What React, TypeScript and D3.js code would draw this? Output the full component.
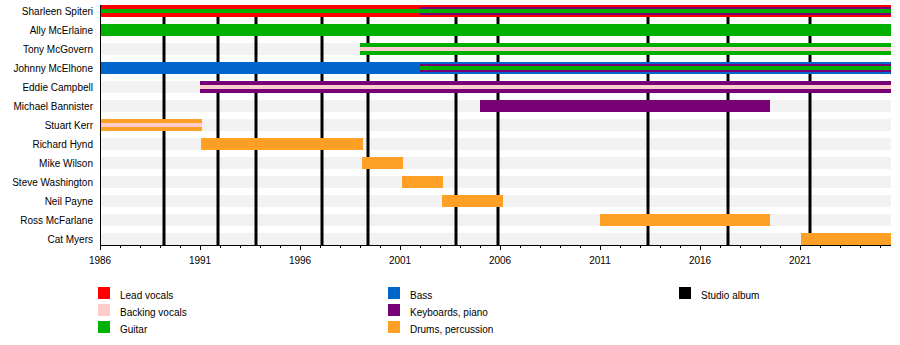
import React from "react";
import * as d3 from "d3";

const members = [
  "Sharleen Spiteri",
  "Ally McErlaine",
  "Tony McGovern",
  "Johnny McElhone",
  "Eddie Campbell",
  "Michael Bannister",
  "Stuart Kerr",
  "Richard Hynd",
  "Mike Wilson",
  "Steve Washington",
  "Neil Payne",
  "Ross McFarlane",
  "Cat Myers",
];

const roles = [
  "Lead vocals",
  "Backing vocals",
  "Guitar",
  "Bass",
  "Keyboards, piano",
  "Drums, percussion",
];

const roleColors = ["#ff0000", "#ffcccc", "#00b000", "#0066cc", "#770077", "#ffa026"];

// [member, role, start, end, layer]
const START = 1986;
const END = 2025.55;
const periods: [string, string, number, number, number][] = [
  ["Sharleen Spiteri", "Lead vocals", 1986, END, 0],
  ["Sharleen Spiteri", "Keyboards, piano", 2002, END, 1],
  ["Sharleen Spiteri", "Guitar", 1986, END, 2],
  ["Ally McErlaine", "Guitar", 1986, END, 0],
  ["Tony McGovern", "Guitar", 1999, END, 0],
  ["Tony McGovern", "Backing vocals", 1999, END, 2],
  ["Johnny McElhone", "Bass", 1986, END, 0],
  ["Johnny McElhone", "Keyboards, piano", 2002, END, 1],
  ["Johnny McElhone", "Guitar", 2002, END, 2],
  ["Eddie Campbell", "Keyboards, piano", 1991, END, 0],
  ["Eddie Campbell", "Backing vocals", 1991, END, 2],
  ["Michael Bannister", "Keyboards, piano", 2005, 2019.5, 0],
  ["Stuart Kerr", "Drums, percussion", 1986, 1991.1, 0],
  ["Stuart Kerr", "Backing vocals", 1986, 1991.1, 2],
  ["Richard Hynd", "Drums, percussion", 1991.05, 1999.15, 0],
  ["Mike Wilson", "Drums, percussion", 1999.1, 2001.15, 0],
  ["Steve Washington", "Drums, percussion", 2001.1, 2003.15, 0],
  ["Neil Payne", "Drums, percussion", 2003.1, 2006.15, 0],
  ["Ross McFarlane", "Drums, percussion", 2011.0, 2019.5, 0],
  ["Cat Myers", "Drums, percussion", 2021.05, END, 0],
];

const albums = [1989.2, 1991.9, 1993.8, 1997.1, 1999.4, 2003.8, 2005.9, 2013.4, 2017.4, 2021.5];

const majorTicks = [1986, 1991, 1996, 2001, 2006, 2011, 2016, 2021];
const minorTicks = d3.range(1986, 2026);

const legendItems: [string, string][] = [
  ["Lead vocals", roleColors[0]],
  ["Backing vocals", roleColors[1]],
  ["Guitar", roleColors[2]],
  ["Bass", roleColors[3]],
  ["Keyboards, piano", roleColors[4]],
  ["Drums, percussion", roleColors[5]],
  ["Studio album", "#000000"],
];

export default function App() {
  const W = 900;
  const H = 345;
  const x = d3.scaleLinear().domain([START, END]).range([100, 891]);
  const y = d3.scaleBand<string>().domain(members).range([1.5, 248.5]).padding(0);
  const rowC = (m: string) => (y(m) as number) + y.bandwidth() / 2;
  const layerH = [12, 8, 4];
  const color = d3.scaleOrdinal<string, string>().domain(roles).range(roleColors);
  const axisY = 245;
  const font = "'Liberation Sans', Arial, sans-serif";
  const sorted = [...periods].sort((a, b) => a[4] - b[4]);

  const legendCols = [
    { x: 98, items: legendItems.slice(0, 3) },
    { x: 388, items: legendItems.slice(3, 6) },
    { x: 679, items: legendItems.slice(6) },
  ];

  return (
    <svg
      width={W}
      height={H}
      style={{ position: "absolute", left: 0, top: 0, background: "#fff" }}
      fontFamily={font}
    >
      {members.map((m) => (
        <rect key={"bg" + m} x={x(START)} width={x(END) - x(START)} y={rowC(m) - 6} height={12} fill="#f2f2f2" />
      ))}
      {albums.map((a) => (
        <line key={"al" + a} x1={x(a)} x2={x(a)} y1={5} y2={axisY} stroke="#000" strokeWidth={3} />
      ))}
      {sorted.map((p, i) => {
        const h = layerH[p[4]];
        return (
          <rect
            key={"b" + i}
            x={x(p[2])}
            width={x(p[3]) - x(p[2])}
            y={rowC(p[0]) - h / 2}
            height={h}
            fill={color(p[1])}
          />
        );
      })}
      {members.map((m) => (
        <text key={"lb" + m} x={93} y={rowC(m) + 3.5} textAnchor="end" fontSize={10} fill="#000">
          {m}
        </text>
      ))}
      <line x1={100.5} x2={100.5} y1={5} y2={axisY} stroke="#000" strokeWidth={1} />
      <line x1={100} x2={891} y1={axisY + 0.5} y2={axisY + 0.5} stroke="#000" strokeWidth={1} />
      {minorTicks.map((t) => (
        <line key={"mt" + t} x1={Math.round(x(t)) + 0.5} x2={Math.round(x(t)) + 0.5} y1={axisY} y2={axisY + 3} stroke="#000" />
      ))}
      {majorTicks.map((t) => (
        <g key={"Mt" + t}>
          <line x1={Math.round(x(t)) + 0.5} x2={Math.round(x(t)) + 0.5} y1={axisY} y2={axisY + 5} stroke="#000" />
          <text x={x(t)} y={264} textAnchor="middle" fontSize={10} fill="#000">
            {t}
          </text>
        </g>
      ))}
      {legendCols.map((c, ci) =>
        c.items.map((it, ii) => (
          <g key={"lg" + ci + ii}>
            <rect x={c.x} y={287 + ii * 17} width={12} height={12} fill={it[1]} />
            <text x={c.x + 22} y={298.5 + ii * 17} fontSize={10} fill="#000">
              {it[0]}
            </text>
          </g>
        ))
      )}
    </svg>
  );
}
